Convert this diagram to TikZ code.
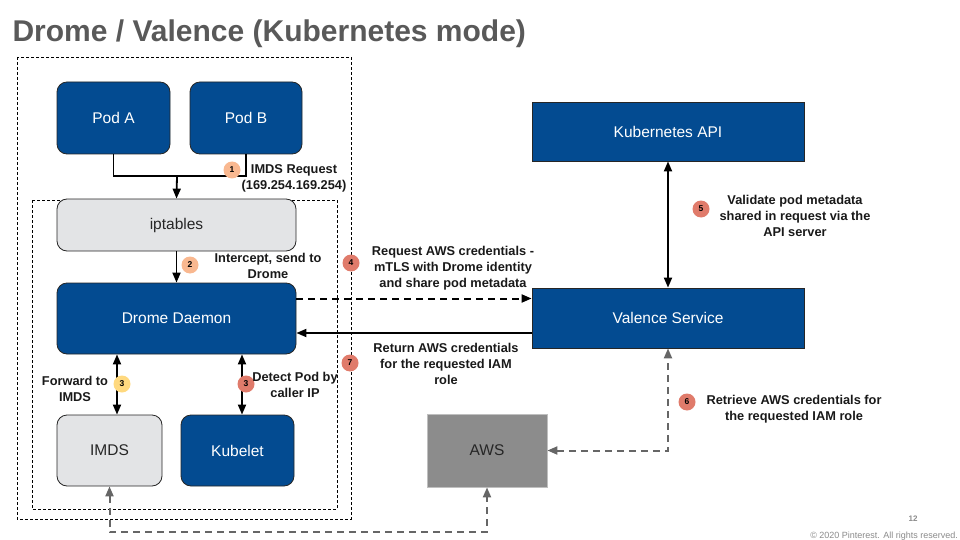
\documentclass[tikz,border=0pt]{standalone}
\usepackage{fontspec}
\setmainfont{Liberation Sans}
\usetikzlibrary{arrows.meta}
\definecolor{podblue}{HTML}{034B91}
\definecolor{boxgray}{HTML}{E3E4E6}
\definecolor{awsgray}{HTML}{8C8C8C}
\definecolor{linkgray}{HTML}{666666}
\definecolor{peach}{HTML}{F9B890}
\definecolor{sunny}{HTML}{FFD97F}
\definecolor{salmon}{HTML}{E07B6B}
\definecolor{titlegray}{HTML}{595959}
\definecolor{footgray}{HTML}{8A8A8A}
\tikzset{
    boxtext/.style={font=\fontsize{15.5}{18}\selectfont},
    bluebox/.style={boxtext, draw=black!85, line width=0.8pt, fill=podblue, text=white, inner sep=0pt},
    pod/.style={bluebox, rounded corners=10pt},
    greybox/.style={boxtext, draw=black!85, line width=0.8pt, fill=boxgray, text=black!85, inner sep=0pt, rounded corners=10pt},
    awsbox/.style={boxtext, draw=black!25, line width=0.8pt, fill=awsgray, text=black!85, inner sep=0pt},
    badge/.style={circle, fill=#1, inner sep=0pt, minimum size=17pt, font=\bfseries\fontsize{8.5}{8.5}\selectfont},
    note/.style={align=center, text=black!90, font=\bfseries\fontsize{12.8}{16}\selectfont},
    zone/.style={line width=0.8pt, dash pattern=on 3pt off 2pt},
    flow/.style={line width=1.8pt, -{Triangle[length=10pt, width=8pt]}},
    twoway/.style={line width=1.8pt, {Triangle[length=10pt, width=8pt]}-{Triangle[length=10pt, width=8pt]}},
    mtls/.style={flow, line width=2pt, dash pattern=on 7pt off 5pt},
    awslink/.style={twoway, line width=2pt, draw=linkgray, dash pattern=on 7pt off 5pt},
}
\begin{document}
\begin{tikzpicture}[x=1pt, y=-1pt]
        \useasboundingbox (0,0) rectangle (960,540);

        \coordinate (PA) at (113.5,118);
        \coordinate (PB) at (246,118);
        \coordinate (IP) at (176.5,225);
        \coordinate (DD) at (176.5,318.5);
        \coordinate (IM) at (109.5,450.5);
        \coordinate (KL) at (237.5,450.5);
        \coordinate (KA) at (668,131.5);
        \coordinate (VS) at (668,318);
        \coordinate (AW) at (487,450.5);
        \coordinate (join) at (177,176);
        \coordinate (floor) at (300,532);

        \node [anchor=base west, text=titlegray, font=\bfseries\fontsize{30}{34}\selectfont] (title) at (9,41.5) {Drome / Valence (Kubernetes mode)};

        \draw [zone] (17,57) rectangle (351,519);
        \draw [zone] (32,200) rectangle (337,509);

        \node [pod, minimum width=113pt, minimum height=72pt] (podA) at (PA) {Pod A};
        \node [pod, minimum width=112pt, minimum height=72pt] (podB) at (PB) {Pod B};
        \node [greybox, minimum width=239pt, minimum height=52pt] (ipt) at (IP) {iptables};
        \node [pod, minimum width=239pt, minimum height=71pt] (drome) at (DD) {Drome Daemon};
        \node [greybox, minimum width=105pt, minimum height=71pt] (imds) at (IM) {IMDS};
        \node [pod, minimum width=113pt, minimum height=71pt] (kubelet) at (KL) {Kubelet};
        \node [bluebox, minimum width=272pt, minimum height=59pt] (kapi) at (KA) {Kubernetes API};
        \node [bluebox, minimum width=272pt, minimum height=60pt] (valence) at (VS) {Valence Service};
        \node [awsbox, minimum width=120pt, minimum height=73pt] (aws) at (AW) {AWS};

        \draw [line width=1.8pt] (podA.south) |- (join) -| (podB.south);
        \draw [flow] (join) -- (ipt.north);
        \draw [flow] (ipt.south) -- (drome.north);
        \draw [twoway] ([xshift=7.5pt]imds.north) -- ([xshift=7.5pt]imds.north |- drome.south);
        \draw [twoway] ([xshift=4.5pt]kubelet.north) -- ([xshift=4.5pt]kubelet.north |- drome.south);
        \draw [mtls] ([yshift=20pt]drome.east) -- ([yshift=20pt]drome.east -| valence.west);
        \draw [flow] ([yshift=-15pt]valence.west) -- ([yshift=-15pt]valence.west -| drome.east);
        \draw [twoway] (kapi.south) -- (valence.north);
        \draw [awslink] (aws.east) -| (valence.south);
        \draw [awslink] (imds.south) |- (floor) -| (aws.south);

        \node [badge=peach] (b1) at (232,170) {1};
        \node [badge=peach] (b2) at (190,265) {2};
        \node [badge=sunny] (b3a) at (122,384) {3};
        \node [badge=salmon] (b3b) at (246,384) {3};
        \node [badge=salmon] (b4) at (351,263) {4};
        \node [badge=salmon] (b5) at (701,209) {5};
        \node [badge=salmon] (b6) at (687,402) {6};
        \node [badge=salmon] (b7) at (350,363) {7};

        \node [note] (n1) at (294,178) {IMDS Request\\(169.254.169.254)};
        \node [note] (n2) at (268,266) {Intercept, send to\\Drome};
        \node [note] (n3a) at (75,389) {Forward to\\IMDS};
        \node [note] (n3b) at (295,385) {Detect Pod by\\caller IP};
        \node [note] (n4) at (453,268) {Request AWS credentials -\\mTLS with Drome identity\\and share pod metadata};
        \node [note] (n5) at (795,216) {Validate pod metadata\\shared in request via the\\API server};
        \node [note] (n6) at (794,409) {Retrieve AWS credentials for\\the requested IAM role};
        \node [note] (n7) at (446,364) {Return AWS credentials\\for the requested IAM\\role};

        \node [text=footgray, font=\bfseries\fontsize{8}{9}\selectfont] (page) at (913,519) {12};
        \node [anchor=base east, inner sep=0pt, text=footgray, font=\fontsize{9}{10}\selectfont] (copy) at (958,538) {© 2020 Pinterest. All rights reserved.};
    \end{tikzpicture}
\end{document}
